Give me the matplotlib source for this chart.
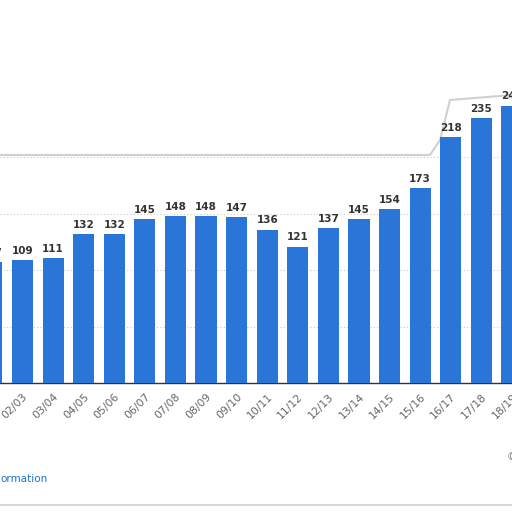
import matplotlib.pyplot as plt
from matplotlib.lines import Line2D

# Seasons and values (cropped Statista-style chart)
seasons = ['01/02', '02/03', '03/04', '04/05', '05/06', '06/07', '07/08', '08/09',
           '09/10', '10/11', '11/12', '12/13', '13/14', '14/15', '15/16', '16/17',
           '17/18', '18/19']
values = [107, 109, 111, 132, 132, 145, 148, 148, 147, 136, 121, 137, 145, 154,
          173, 218, 235, 246]
grid_levels = [50, 100, 150, 200]

bar_color = '#2a75d8'

fig = plt.figure(figsize=(5.12, 5.12), dpi=100)
ax = fig.add_axes([0, 1 - 383 / 512, 1, 383 / 512])

x = list(range(len(seasons)))
bars = ax.bar(x, values, width=0.69, color=bar_color, zorder=3)

for xi, v in zip(x, values):
    ax.annotate(str(v), (xi, v), xytext=(0, 3), textcoords='offset points',
                ha='center', va='bottom', fontsize=7.5, fontweight='bold',
                color='#333333', zorder=4, annotation_clip=False)

# dotted gridlines
for g in grid_levels:
    ax.axhline(g, color='#c8c8c8', linestyle=(0, (1, 2)), linewidth=0.8, zorder=1)

ax.set_yticks([])
ax.set_xticks(x)
ax.set_xticklabels(seasons, rotation=45, ha='right', rotation_mode='anchor',
                   fontsize=7.8, color='#666666')
ax.tick_params(axis='x', length=0, pad=6)

# set limits after ticks so the ticks don't widen the view
ax.set_xlim(0.265, 17.0)
ax.set_ylim(0, 383 / 1.128)

for side in ['top', 'right', 'left']:
    ax.spines[side].set_visible(False)
ax.spines['bottom'].set_color('#333333')
ax.spines['bottom'].set_linewidth(1.0)
ax.patch.set_alpha(0)

# panel outline (faint, as in the screenshot)
px = [0, 430, 440, 450, 512]
py = [155, 155, 140, 100, 95]
fig.add_artist(Line2D([p / 512 for p in px], [1 - p / 512 for p in py],
                      color='#d0d0d0', linewidth=1.5, zorder=0))
fig.add_artist(Line2D([0, 1], [1 - 505 / 512, 1 - 505 / 512],
                      color='#d8d8d8', linewidth=1.5, zorder=0))

fig.text(0.0, 1 - 479 / 512, 'ormation', color='#1a73c9', fontsize=7.5,
         ha='left', va='center')
fig.text(0.99, 1 - 457 / 512, '©', color='#888888', fontsize=7.5,
         ha='left', va='center')

fig.savefig('out.png', dpi=100)
